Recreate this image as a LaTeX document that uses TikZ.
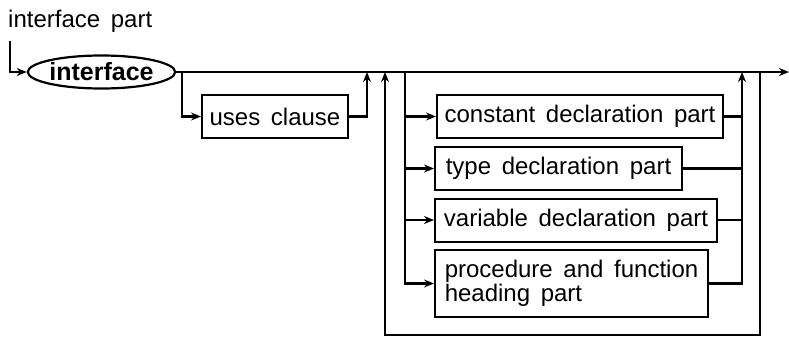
\documentclass[tikz,border=0pt]{standalone}
\usepackage{fontspec}
\setmainfont{Liberation Sans}[WordSpace=1.6]
\usetikzlibrary{arrows.meta,shapes.geometric}
\begin{document}
\begin{tikzpicture}[x=1pt,y=-1pt,
  txt/.style={font=\fontsize{24}{24}\selectfont},
  line/.style={line width=2.8pt},
  arr/.style={line width=2.8pt,-{Stealth[length=10pt,width=8pt]}},
  box/.style={draw,line width=2pt,minimum height=43pt,inner sep=3pt,txt}]
\useasboundingbox (0,0) rectangle (789,338);
\node[anchor=base west,inner sep=0,txt] (title) at (8,27) {interface part};
\coordinate (s) at (10,41);
\node[ellipse,draw,line width=2.2pt,minimum width=133pt,minimum height=33pt,inner sep=0,
  font=\fontsize{25}{25}\selectfont\bfseries] (kw) at (101.5,72) {interface};
\coordinate (end) at (789,72);
\draw[arr] (s) |- (kw.west);
\draw[arr] (kw.east) -- (end);
% uses clause
\coordinate (j1) at (182,72);
\node[box,minimum width=146pt] (uses) at (275,116.5) {uses clause};
\draw[arr] (j1) |- (uses.west);
\coordinate (m1) at (367,72);
\draw[arr] (uses.east) -| (m1);
% loop
\coordinate (l1) at (760,72);
\coordinate (lb1) at (760,335);
\coordinate (lb2) at (385,335);
\coordinate (l2) at (385,72);
\draw[arr] (l1) -- (lb1) -- (lb2) -- (l2);
% declaration boxes
\node[box,minimum width=286pt] (const) at (580,116.5) {constant declaration part};
\node[box,minimum width=247pt] (type) at (558.5,168.5) {type declaration part};
\node[box,minimum width=282pt] (var) at (576,220) {variable declaration part};
\node[box,minimum width=273pt,minimum height=67pt,align=left] (proc) at (571.5,283.5) {procedure and function\\heading part};
\coordinate (d0) at (405,72);
\draw[arr] (d0) |- (proc.west);
\draw[arr] (d0 |- const.west) -- (const.west);
\draw[arr] (d0 |- type.west) -- (type.west);
\draw[arr] (d0 |- var.west) -- (var.west);
\coordinate (c0) at (742,72);
\draw[arr] (proc.east) -| (c0);
\draw[line] (const.east) -- (c0 |- const.east);
\draw[line] (type.east) -- (c0 |- type.east);
\draw[line] (var.east) -- (c0 |- var.east);
\end{tikzpicture}
\end{document}
